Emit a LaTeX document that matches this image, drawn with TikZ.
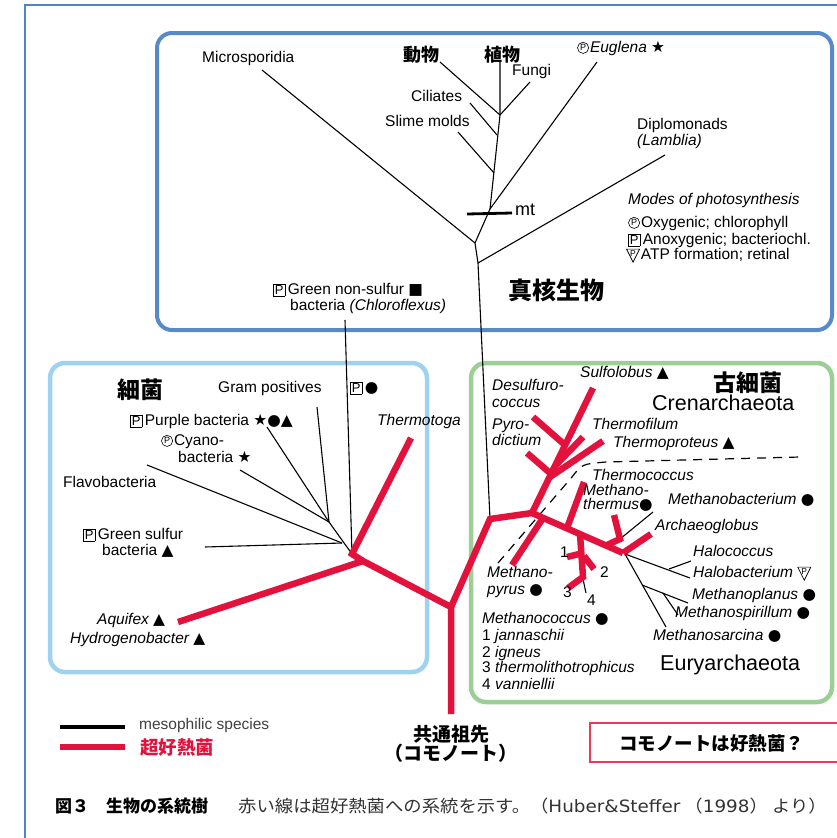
\documentclass[tikz,border=0pt]{standalone}
\usepackage{fontspec}
\usepackage{graphicx}
\setmainfont{Liberation Sans}
\newfontfamily\cjk{Noto Sans CJK JP}
\newfontfamily\dv{DejaVu Sans}
\definecolor{hotred}{RGB}{226,18,60}
\definecolor{eukc}{RGB}{88,138,200}
\definecolor{bactc}{RGB}{158,210,240}
\definecolor{archc}{RGB}{156,207,150}
\definecolor{framec}{RGB}{80,134,198}
\definecolor{pinkc}{RGB}{228,60,90}
\definecolor{capc}{RGB}{50,50,50}
\newcommand\sy[1]{{\dv #1}}
\newcommand\bxP{{\setlength\fboxsep{1pt}\setlength\fboxrule{0.7pt}\fbox{\fontsize{13}{13}\selectfont P}}}
\newcommand\ciP{\tikz[baseline=0pt]{\draw[line width=0.6pt] (5.5pt,4.8pt) circle (5.6pt); \node[inner sep=0pt, anchor=center, font=\fontsize{9}{9}\upshape\selectfont] (cp) at (5.5pt,4.8pt) {P};}\hspace{1pt}}
\newcommand\triP{\tikz[baseline=0pt]{\draw[line width=0.7pt] (0pt,10.5pt) -- (13pt,10.5pt) -- (6.5pt,-2.5pt) -- cycle; \node[inner sep=0pt, anchor=center, font=\fontsize{8.5}{8.5}\upshape\selectfont] (tp) at (6.5pt,6pt) {P};}\hspace{1pt}}
\begin{document}
\begin{tikzpicture}[x=1pt,y=-1pt,
  hot/.style={draw=hotred, line width=6.5pt},
  br/.style={draw=black, line width=1.1pt},
  lab/.style={inner sep=0pt, anchor=mid west, font=\fontsize{15.5}{17}\selectfont},
  ilab/.style={inner sep=0pt, anchor=mid west, font=\fontsize{15.5}{17}\selectfont\itshape},
  jbig/.style={inner sep=0pt, anchor=west, font=\cjk\bfseries\fontsize{24}{26}\selectfont},
  jmid/.style={inner sep=0pt, anchor=west, font=\cjk\bfseries\fontsize{18}{20}\selectfont},
  big/.style={inner sep=0pt, anchor=mid west, font=\fontsize{21.5}{23}\selectfont},
]
\useasboundingbox (0,0) rectangle (837,838);
% frame
\draw[framec, line width=1.3pt] (837,5) -- (25,5) -- (25,838);
% group boxes
\draw[eukc, line width=4pt, rounded corners=15pt] (157,33) rectangle (832,330);
\draw[bactc, line width=4.5pt, rounded corners=15pt] (50,363) rectangle (427,672);
\draw[archc, line width=4.5pt, rounded corners=15pt] (471,363) rectangle (832,702);

% ---------- coordinates ----------
\coordinate (R0) at (451,714);
\coordinate (R1) at (451,607);
\coordinate (B1) at (363,561);
\coordinate (B0) at (352,554);
\coordinate (Tt) at (411,438);
\coordinate (Aq) at (178,622);
\coordinate (A1) at (490,519);
\coordinate (A2) at (532,513);
\coordinate (Su) at (593,388);
\coordinate (E1) at (623,553);
\coordinate (D0) at (565,445); \coordinate (D1) at (533,417);
\coordinate (P0) at (550,473); \coordinate (P1) at (527,453);
\coordinate (F0) at (556,465); \coordinate (F1) at (583,437);
\coordinate (T0) at (550,477); \coordinate (T1) at (603,441);
\coordinate (C0) at (567,528); \coordinate (C1) at (584,482);
\coordinate (Y0) at (543,518); \coordinate (Y1) at (512,565);
\coordinate (M0) at (580,534); \coordinate (M1) at (583,577);
\coordinate (M2) at (583,553); \coordinate (M3) at (567,557);
\coordinate (N0) at (584,556); \coordinate (N1) at (594,569);
\coordinate (M4) at (568,588);
\coordinate (M5) at (583,579); \coordinate (M6) at (586,593);
\coordinate (H0) at (607,545); \coordinate (H1) at (620,539); \coordinate (H2) at (614,515);
\coordinate (H3) at (653,512);
\coordinate (G1) at (651,534);
\coordinate (X0) at (625,554);
\coordinate (Hb) at (690,578);
\coordinate (Hc0) at (669,569); \coordinate (Hc1) at (691,561);
\coordinate (Ms) at (666,627);
\coordinate (Mp0) at (642,585); \coordinate (Mp1) at (688,603);
\coordinate (Mr0) at (663,593); \coordinate (Mr1) at (678,615);
\coordinate (Ds0) at (498,563);
\coordinate (Ds1) at (572,477);
\coordinate (Ds2) at (582,464);
\coordinate (Ds3) at (606,462);
\coordinate (Ds4) at (800,457);
\coordinate (Q1) at (478,263);
\coordinate (Q0) at (475,243);
\coordinate (Q2) at (490,209);
\coordinate (Q3) at (500,115);
\coordinate (Q4) at (500,62);
\coordinate (Qc) at (497,135);
\coordinate (Qs) at (494,173);
\coordinate (eMic) at (262,70);
\coordinate (eDip) at (665,155);
\coordinate (eEug) at (597,62);
\coordinate (eSli) at (458,132);
\coordinate (eCil) at (470,103);
\coordinate (eDob) at (440,62);
\coordinate (eFun) at (530,82);
\coordinate (mtL) at (467,214);
\coordinate (mtR) at (512,213);
\coordinate (gTop) at (345,320);
\coordinate (J) at (329,522);
\coordinate (L) at (342,543);
\coordinate (bGp) at (317,407);
\coordinate (bPu) at (267,427);
\coordinate (bCy) at (240,470);
\coordinate (bFl) at (147,465);
\coordinate (bGs) at (205,547);
\coordinate (lg1a) at (60,727); \coordinate (lg1b) at (125,727);
\coordinate (lg2a) at (60,747); \coordinate (lg2b) at (125,747);

% ---------- thin black tree ----------
\draw[br] (A1) -- (Q1) -- (Q0) -- (Q2) -- (Q3) -- (Q4);
\draw[br] (eMic) -- (Q0);
\draw[br] (Q1) -- (eDip);
\draw[br] (eEug) -- (Q2);
\draw[br] (eSli) -- (Qs);
\draw[br] (eCil) -- (Qc);
\draw[br] (eDob) -- (Q3);
\draw[br] (eFun) -- (Q3);
\draw[black, line width=2.8pt] (mtL) -- (mtR);
\draw[br] (gTop) -- (B0);
\draw[br] (bGp) -- (J);
\draw[br] (bPu) -- (J);
\draw[br] (bCy) -- (J);
\draw[br] (J) -- (B0);
\draw[br] (bFl) -- (L);
\draw[br] (bGs) -- (L);
\draw[br] (X0) -- (Hb);
\draw[br] (Hc0) -- (Hc1);
\draw[br] (X0) -- (Ms);
\draw[br] (Mp0) -- (Mp1);
\draw[br] (Mr0) -- (Mr1);
\draw[br] (H1) -- (H3);
\draw[br] (M5) -- (M6);
\draw[black, line width=1.2pt, dash pattern=on 9pt off 7pt] (Ds0) -- (Ds1) .. controls (Ds2) .. (Ds3) -- (Ds4);

% ---------- red tree ----------
\draw[hot] (R0) -- (R1) -- (B1) -- (Aq);
\draw[hot] (B1) -- (B0) -- (Tt);
\draw[hot] (R1) -- (A1) -- (A2) -- (E1);
\draw[hot] (A2) -- (Su);
\draw[hot] (D0) -- (D1);
\draw[hot] (P0) -- (P1);
\draw[hot] (F0) -- (F1);
\draw[hot] (T0) -- (T1);
\draw[hot] (C0) -- (C1);
\draw[hot] (Y0) -- (Y1);
\draw[hot] (M0) -- (M1) -- (M4);
\draw[hot] (M2) -- (M3);
\draw[hot] (N0) -- (N1);
\draw[hot] (H0) -- (H1) -- (H2);
\draw[hot] (E1) -- (G1);

% ---------- eukaryote labels ----------
\node[lab] (lMic) at (202,60) {Microsporidia};
\node[jmid] (lDob) at (403,55) {動物};
\node[jmid] (lSho) at (484,55) {植物};
\node[lab] (lFun) at (512,73) {Fungi};
\node[lab] (lCil) at (411,99) {Ciliates};
\node[lab] (lSli) at (385,124) {Slime molds};
\node[lab] (lEug) at (577,50) {\ciP\textit{Euglena} \sy{★}};
\node[lab] (lDip) at (637,127) {Diplomonads};
\node[lab] (lLam) at (637,143) {\textit{(Lamblia)}};
\node[lab, font=\fontsize{18}{18}\selectfont] (lmt) at (515,213) {mt};
\node[lab] (lMod) at (628,202) {\textit{Modes of photosynthesis}};
\node[lab] (lOx) at (628,225) {\ciP Oxygenic; chlorophyll};
\node[lab] (lAn) at (628,242) {\bxP\,Anoxygenic; bacteriochl.};
\node[lab] (lATP) at (626,257) {\triP ATP formation; retinal};
\node[jbig] (lEuk) at (508,290) {真核生物};
\node[lab] (lGns) at (273,292) {\bxP\,Green non-sulfur \sy{■}};
\node[lab] (lChl) at (290,308) {bacteria \textit{(Chloroflexus)}};

% ---------- bacteria labels ----------
\node[jbig, font=\cjk\bfseries\fontsize{23}{25}\selectfont] (lBac) at (117,390) {細菌};
\node[lab] (lGp) at (218,390) {Gram positives};
\node[lab] (lPb) at (350,390) {\bxP\,\sy{●}};
\node[lab] (lPu) at (130,423) {\bxP\,Purple bacteria \sy{★●▲}};
\node[lab] (lCy1) at (161,443) {\ciP Cyano-};
\node[lab] (lCy2) at (178,460) {bacteria \sy{★}};
\node[lab] (lFl) at (63,485) {Flavobacteria};
\node[lab] (lGs1) at (83,537) {\bxP\,Green sulfur};
\node[lab] (lGs2) at (102,553) {bacteria \sy{▲}};
\node[ilab] (lAq) at (97,622) {Aquifex \sy{▲}};
\node[ilab] (lHy) at (70,641) {Hydrogenobacter \sy{▲}};
\node[ilab] (lTt) at (377,423) {Thermotoga};

% ---------- archaea labels ----------
\node[ilab] (lSu) at (580,375) {Sulfolobus \sy{▲}};
\node[jbig, font=\cjk\bfseries\fontsize{23}{25}\selectfont] (lArc) at (713,383) {古細菌};
\node[big] (lCren) at (652,408) {Crenarchaeota};
\node[ilab] (lDe1) at (492,388) {Desulfuro-};
\node[ilab] (lDe2) at (492,405) {coccus};
\node[ilab] (lPy1) at (492,427) {Pyro-};
\node[ilab] (lPy2) at (492,443) {dictium};
\node[ilab] (lTf) at (592,427) {Thermofilum};
\node[ilab] (lTp) at (613,445) {Thermoproteus \sy{▲}};
\node[ilab] (lTc) at (592,478) {Thermococcus};
\node[ilab] (lMt1) at (583,493) {Methano-};
\node[ilab] (lMt2) at (583,507) {thermus\sy{●}};
\node[ilab] (lMb) at (668,502) {Methanobacterium \sy{●}};
\node[ilab] (lAg) at (655,528) {Archaeoglobus};
\node[ilab] (lHc) at (693,554) {Halococcus};
\node[ilab] (lHb) at (693,575) {Halobacterium \triP};
\node[ilab] (lMpl) at (692,597) {Methanoplanus \sy{●}};
\node[ilab] (lMsp) at (675,615) {Methanospirillum \sy{●}};
\node[ilab] (lMsa) at (653,638) {Methanosarcina \sy{●}};
\node[ilab] (lMy1) at (487,575) {Methano-};
\node[ilab] (lMy2) at (487,592) {pyrus \sy{●}};
\node[lab] (n1) at (560,555) {1};
\node[lab] (n2) at (600,575) {2};
\node[lab] (n3) at (563,595) {3};
\node[lab] (n4) at (587,603) {4};
\node[ilab] (lMc) at (482,621) {Methanococcus \sy{●}};
\node[lab] (lMc1) at (482,638) {1 \textit{jannaschii}};
\node[lab] (lMc2) at (482,655) {2 \textit{igneus}};
\node[lab] (lMc3) at (482,670) {3 \textit{thermolithotrophicus}};
\node[lab] (lMc4) at (482,687) {4 \textit{vanniellii}};
\node[big] (lEury) at (660,668) {Euryarchaeota};

% ---------- legend ----------
\draw[black, line width=4.5pt] (lg1a) -- (lg1b);
\draw[hotred, line width=6.5pt] (lg2a) -- (lg2b);
\node[lab, text=black!75] (lgMes) at (139,727) {mesophilic species};
\node[jmid, text=hotred, font=\cjk\bfseries\fontsize{18.5}{20}\selectfont] (lgHot) at (140,747) {超好熱菌};
\node[inner sep=0pt, align=center, font=\cjk\bfseries\fontsize{19}{19}\selectfont] (lComm) at (451,744) {共通祖先\\（コモノート）};
\draw[pinkc, line width=1.3pt] (837,723) -- (590,723) -- (590,762) -- (837,762);
\node[jmid, font=\cjk\bfseries\fontsize{18.5}{20}\selectfont] (lQ) at (619,743) {コモノートは好熱菌？};

% ---------- caption ----------
\node[jmid, font=\cjk\bfseries\fontsize{17}{19}\selectfont] (cap1) at (55,806) {図３　生物の系統樹};
\node[jmid, text=capc, font=\cjk\fontsize{17}{19}\selectfont] (cap2) at (238,806) {\scalebox{1.08}[1]{赤い線は超好熱菌への系統を示す。（{\dv Huber\&Steffer} （{\dv 1998}） より）}};
\end{tikzpicture}
\end{document}
